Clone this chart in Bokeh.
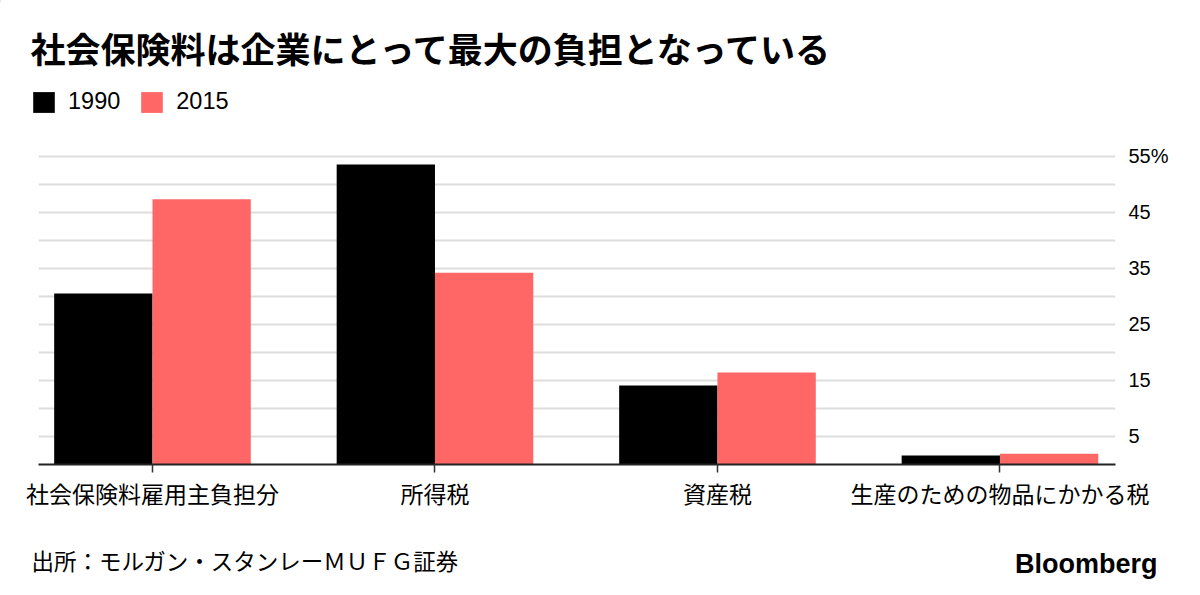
from bokeh.plotting import figure
from bokeh.models import (ColumnDataSource, Range1d, FixedTicker, LinearAxis,
                          Legend, LegendItem)
from bokeh.core.properties import value
from bokeh.transform import dodge
from bokeh.embed import file_html
from bokeh.resources import INLINE

# ---- data ----
categories = ["社会保険料雇用主負担分", "所得税", "資産税", "生産のための物品にかかる税"]
values_1990 = [30.5, 53.5, 14.1, 1.6]
values_2015 = [47.3, 34.2, 16.4, 1.9]
series_names = ["1990", "2015"]
y_tick_values = [5, 15, 25, 35, 45, 55]
y_tick_labels = ["5", "15", "25", "35", "45", "55%"]
grid_values = [0, 5, 10, 15, 20, 25, 30, 35, 40, 45, 50, 55]
title_text = "社会保険料は企業にとって最大の負担となっている"
source_text = "出所：モルガン・スタンレーＭＵＦＧ証券"
brand_text = "Bloomberg"

COL_1990 = "#000000"
COL_2015 = "#FF6666"
JP = "Noto Sans CJK JP"
LAT = "Liberation Sans"

W = 1200
HDR_H, MAIN_H, FTR_H = 130, 400, 65


def blank(height):
    f = figure(width=W, height=height, output_backend="svg", toolbar_location=None,
               x_range=Range1d(0, W), y_range=Range1d(height, 0),
               min_border=0, x_axis_location=None, y_axis_location=None)
    f.outline_line_color = None
    f.xgrid.visible = False
    f.ygrid.visible = False
    f.border_fill_color = "white"
    return f


# ---- header ----
hdr = blank(HDR_H)
hdr.text(x=[30], y=[47], text=[title_text], text_font=value(JP), text_font_size="35px",
         text_font_style="bold", text_baseline="alphabetic", text_color="#000000")
# off-screen stand-ins so that the legend can draw its swatches
d1 = hdr.vbar(x=[-500], top=[0], bottom=[1], width=1, fill_color=COL_1990, line_color=None)
d2 = hdr.vbar(x=[-500], top=[0], bottom=[1], width=1, fill_color=COL_2015, line_color=None)
legend = Legend(items=[LegendItem(label=series_names[0], renderers=[d1]),
                       LegendItem(label=series_names[1], renderers=[d2])],
                orientation="horizontal", location=(30, 15),
                glyph_width=27, glyph_height=26, label_standoff=11, spacing=18,
                padding=0, margin=0, border_line_color=None,
                background_fill_alpha=0,
                label_text_font=LAT, label_text_font_size="23.5px",
                label_text_color="#000000", label_height=26)
hdr.add_layout(legend, "center")

# ---- main chart ----
BL, BR, BT, BB = 38, 85, 20, 66
src = ColumnDataSource(dict(idx=list(range(len(categories))),
                            v1990=values_1990, v2015=values_2015))

p = figure(width=W, height=MAIN_H, output_backend="svg", toolbar_location=None,
           x_range=Range1d(-0.4035, 3.409), y_range=Range1d(0, 56),
           min_border_left=BL, min_border_right=BR, min_border_top=BT,
           min_border_bottom=BB, x_axis_location=None, y_axis_location=None)
p.outline_line_color = None
p.border_fill_color = "white"

bw = 0.348
p.vbar(x=dodge("idx", -bw / 2), top="v1990", width=bw, source=src,
       fill_color=COL_1990, line_color=None)
p.vbar(x=dodge("idx", bw / 2), top="v2015", width=bw, source=src,
       fill_color=COL_2015, line_color=None)

p.xgrid.visible = False
p.ygrid.ticker = FixedTicker(ticks=grid_values)
p.ygrid.grid_line_color = "#dddddd"
p.ygrid.grid_line_width = 2

xax = LinearAxis(ticker=FixedTicker(ticks=list(range(len(categories)))))
xax.major_label_overrides = {i: c for i, c in enumerate(categories)}
xax.axis_line_color = "#222222"
xax.axis_line_width = 2
xax.major_tick_in = 0
xax.major_tick_out = 8
xax.major_tick_line_color = "#333333"
xax.major_tick_line_width = 1.5
xax.minor_tick_line_color = None
xax.major_label_text_font = JP
xax.major_label_text_font_size = "23px"
xax.major_label_text_color = "#000000"
xax.major_label_standoff = 3
p.add_layout(xax, "below")

yax = LinearAxis(ticker=FixedTicker(ticks=y_tick_values))
yax.major_label_overrides = {v: t for v, t in zip(y_tick_values, y_tick_labels)}
yax.axis_line_color = None
yax.major_tick_line_color = None
yax.major_tick_out = 0
yax.major_tick_in = 0
yax.minor_tick_line_color = None
yax.minor_tick_out = 0
yax.major_label_text_font = LAT
yax.major_label_text_font_size = "20px"
yax.major_label_text_color = "#000000"
yax.major_label_standoff = 13
p.add_layout(yax, "right")

# ---- footer ----
ftr = blank(FTR_H)
ftr.text(x=[31], y=[29], text=[source_text], text_font=value(JP), text_font_size="22.5px",
         text_baseline="middle", text_color="#000000")
ftr.text(x=[1157], y=[33], text=[brand_text], text_font=value(LAT), text_font_size="27px",
         text_font_style="bold", text_align="right", text_baseline="alphabetic",
         text_color="#000000")

open("out.html", "w").write(file_html([hdr, p, ftr], INLINE))
